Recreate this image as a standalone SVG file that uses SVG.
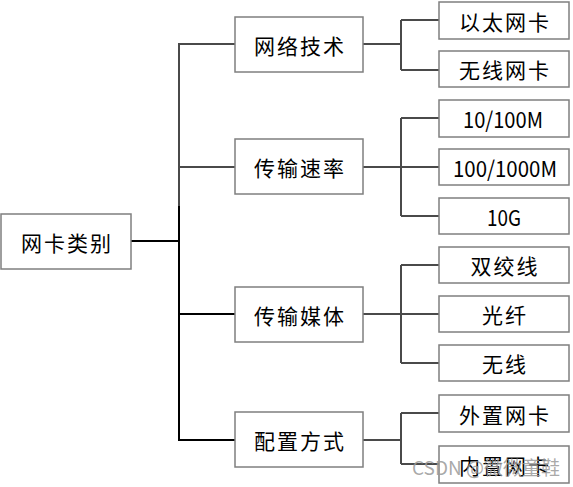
<svg xmlns="http://www.w3.org/2000/svg" width="573" height="487" viewBox="0 0 573 487">
<style>
.box{fill:#fff;stroke:#7f7f7f;stroke-width:1.5}
.t{font-family:"Noto Sans CJK SC","Noto Sans",sans-serif;font-size:21px;fill:#000;text-anchor:middle;dominant-baseline:central;letter-spacing:2px}
.n{font-family:"Noto Sans CJK SC","DejaVu Sans",sans-serif;font-size:22px;fill:#000;text-anchor:middle;dominant-baseline:central}
.c{fill:none;stroke:#4a4a4a;stroke-width:2}
.wm{font-family:"Noto Sans CJK SC","Noto Sans",sans-serif;font-size:19px;fill:#9a9a9a;fill-opacity:0.85}
</style>
<rect width="573" height="487" fill="#fff"/>
<g id="connectors">
<path class="c" d="M179,206 V44 H235 M179,167 H235"/>
<path class="c" style="stroke:#000" d="M179,206 V440 H235 M131,241 H179 M179,314 H235"/>
<path class="c" d="M363,44 H401 M401,20 V70 M401,20 H439 M401,70 H439"/>
<path class="c" d="M363,167 H439 M401,118 V216 M401,118 H439 M401,216 H439"/>
<path class="c" d="M363,314 H439 M401,265 V363 M401,265 H439 M401,363 H439"/>
<path class="c" d="M363,440 H401 M401,413 V464 M401,413 H439 M401,464 H439"/>
</g>
<g id="root"><rect class="box" x="1" y="214" width="130" height="55"/><text class="t" x="67" y="241.5">网卡类别</text></g>
<g id="n1"><rect class="box" x="235" y="17" width="128" height="55"/><text class="t" x="300" y="44.5">网络技术</text></g>
<g id="n2"><rect class="box" x="235" y="139" width="128" height="55"/><text class="t" x="300" y="166.5">传输速率</text></g>
<g id="n3"><rect class="box" x="235" y="287" width="128" height="55"/><text class="t" x="300" y="314.5">传输媒体</text></g>
<g id="n4"><rect class="box" x="235" y="412" width="128" height="55"/><text class="t" x="300" y="439.5">配置方式</text></g>
<g id="l1"><rect class="box" x="439" y="2" width="130" height="37"/><text class="t" x="505" y="20.5">以太网卡</text></g>
<g id="l2"><rect class="box" x="439" y="51" width="130" height="36"/><text class="t" x="505" y="69">无线网卡</text></g>
<g id="l3"><rect class="box" x="439" y="100" width="130" height="37"/><text class="n" x="503" y="118" textLength="80" lengthAdjust="spacingAndGlyphs">10/100M</text></g>
<g id="l4"><rect class="box" x="439" y="149" width="130" height="36"/><text class="n" x="505" y="166.5" textLength="104" lengthAdjust="spacingAndGlyphs">100/1000M</text></g>
<g id="l5"><rect class="box" x="439" y="198" width="130" height="36"/><text class="n" x="504" y="215.5" textLength="34" lengthAdjust="spacingAndGlyphs">10G</text></g>
<g id="l6"><rect class="box" x="439" y="247" width="130" height="36"/><text class="t" x="505" y="265">双绞线</text></g>
<g id="l7"><rect class="box" x="439" y="296" width="130" height="36"/><text class="t" x="505" y="314">光纤</text></g>
<g id="l8"><rect class="box" x="439" y="345" width="130" height="36"/><text class="t" x="505" y="363">无线</text></g>
<g id="l9"><rect class="box" x="439" y="395" width="130" height="37"/><text class="t" x="505" y="413.5">外置网卡</text></g>
<g id="l10"><rect class="box" x="439" y="446" width="130" height="37"/><text class="t" x="505" y="464.5">内置网卡</text></g>
<text class="wm" x="412" y="475">CSDN @微微童鞋</text>
</svg>
